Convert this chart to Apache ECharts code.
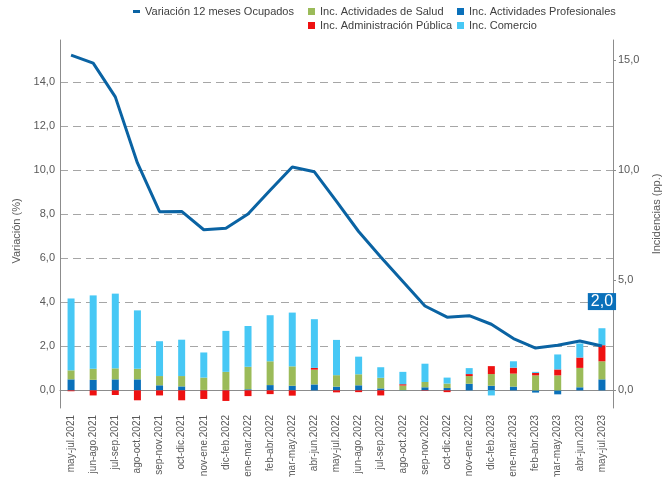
<!DOCTYPE html>
<html>
<head>
<meta charset="utf-8">
<script src="https://cdn.jsdelivr.net/npm/echarts@6/dist/echarts.min.js"></script>
<style>
html,body{margin:0;padding:0;background:#fff;}
#chart{width:670px;height:477px;}
</style>
</head>
<body>
<div id="chart"></div>
<script>
var categories = ["may-jul.2021","jun-ago.2021","jul-sep.2021","ago-oct.2021","sep-nov.2021","oct-dic.2021","nov-ene.2021","dic-feb.2022","ene-mar.2022","feb-abr.2022","mar-may.2022","abr-jun.2022","may-jul.2022","jun-ago.2022","jul-sep.2022","ago-oct.2022","sep-nov.2022","oct-dic.2022","nov-ene.2022","dic-feb.2023","ene-mar.2023","feb-abr.2023","mar-may.2023","abr-jun.2023","may-jul.2023"];

var variacionOcupados = [15.21,14.85,13.32,10.32,8.11,8.12,7.29,7.36,8.0,9.08,10.14,9.92,8.58,7.21,6.05,4.94,3.83,3.32,3.39,3.0,2.35,1.92,2.05,2.24,2.01];

var incProfesionales = [0.5,0.48,0.5,0.5,0.23,0.18,0.02,0.02,0.05,0.24,0.21,0.27,0.17,0.23,0.09,0.01,0.14,0.11,0.3,0.21,0.17,-0.1,-0.18,0.14,0.5];
var incSalud = [0.41,0.5,0.5,0.48,0.42,0.47,0.56,0.82,1.02,1.08,0.88,0.67,0.52,0.5,0.48,0.21,0.24,0.2,0.35,0.53,0.59,0.68,0.68,0.88,0.82];
var incAdministracion = [-0.04,-0.23,-0.21,-0.45,-0.23,-0.45,-0.39,-0.48,-0.26,-0.17,-0.24,0.08,-0.09,-0.08,-0.23,0.06,-0.02,-0.08,0.09,0.36,0.27,0.11,0.27,0.47,0.73];
var incComercio = [3.26,3.33,3.39,2.65,1.58,1.65,1.14,1.86,1.85,2.09,2.44,2.21,1.6,0.8,0.48,0.56,0.83,0.27,0.27,-0.23,0.29,0.05,0.68,0.64,0.77];

var seriesNames = ["Variación 12 meses Ocupados","Inc. Actividades de Salud","Inc. Actividades Profesionales","Inc. Administración Pública","Inc. Comercio"];

var fmt = function(v){ return Number(v).toFixed(1).replace('.', ','); };
var txt = '#595959';
var fontFam = '"Liberation Sans", Arial, sans-serif';

var chart = echarts.init(document.getElementById('chart'), null, {renderer:'canvas'});

var lastIdx = variacionOcupados.length - 1;
var lineData = variacionOcupados.map(function(v, i){
  if (i === lastIdx) {
    return {value: v, label: {show: true, position: 'top', distance: 36, formatter: function(p){ return fmt(p.value); },
      backgroundColor: '#0A70BA', color: '#fff', fontSize: 16, lineHeight: 16, padding: [1, 3, 0, 3], fontFamily: fontFam}};
  }
  return v;
});

function barSeries(name, data, color){
  return {name: name, type: 'bar', stack: 'inc', yAxisIndex: 1, data: data, barWidth: 7,
    itemStyle: {color: color}, z: 2};
}

var legendText = {color: '#404040', fontSize: 11, fontFamily: fontFam};

var option = {
  animation: false,
  backgroundColor: '#fff',
  textStyle: {fontFamily: fontFam},
  legend: [
    {data: [{name: seriesNames[0], icon: 'rect'}], left: 133, top: 6, padding: 0, itemWidth: 7, itemHeight: 3, itemGap: 6, textStyle: legendText},
    {data: [seriesNames[1], seriesNames[3]], left: 308, top: 6, padding: 0, orient: 'vertical', icon: 'rect', itemWidth: 7, itemHeight: 7, itemGap: 3, textStyle: legendText},
    {data: [seriesNames[2], seriesNames[4]], left: 457, top: 6, padding: 0, orient: 'vertical', icon: 'rect', itemWidth: 7, itemHeight: 7, itemGap: 3, textStyle: legendText}
  ],
  grid: {left: 60, right: 57, top: 40, bottom: 69, containLabel: false, outerBoundsMode: 'none'},
  xAxis: {
    type: 'category', data: categories, boundaryGap: true,
    axisLine: {lineStyle: {color: '#8C8C8C'}},
    axisTick: {alignWithLabel: true, length: 4, lineStyle: {color: '#8C8C8C'}},
    axisLabel: {rotate: 90, color: txt, fontSize: 10, margin: 7, interval: 0}
  },
  yAxis: [
    {type: 'value', min: -0.8, max: 15.9, splitNumber: 8, position: 'left',
     name: 'Variación (%)', nameLocation: 'middle', nameGap: 27, nameRotate: 90,
     nameTextStyle: {color: txt, fontSize: 11, padding: [0, 14, 0, 0]},
     axisLine: {show: true, lineStyle: {color: '#8C8C8C'}},
     axisTick: {show: false},
     axisLabel: {color: txt, fontSize: 11, margin: 5, formatter: fmt, showMinLabel: false, showMaxLabel: false},
     splitLine: {show: true, showMinLine: false, showMaxLine: false, lineStyle: {color: '#A6A6A6', type: [8, 5], width: 1}}
    },
    {type: 'value', min: -0.8, max: 15.9, splitNumber: 3, position: 'right',
     name: 'Incidencias (pp.)', nameLocation: 'middle', nameGap: 38, nameRotate: 90,
     nameTextStyle: {color: txt, fontSize: 11, padding: [0, 0, 0, 20]},
     axisLine: {show: true, lineStyle: {color: '#8C8C8C'}},
     axisTick: {show: true, length: 3, lineStyle: {color: '#8C8C8C'}},
     axisLabel: {color: txt, fontSize: 11, margin: 5, formatter: fmt, showMinLabel: false, showMaxLabel: false},
     splitLine: {show: false}
    }
  ],
  series: [
    {name: seriesNames[0], type: 'line', yAxisIndex: 0, data: lineData, symbol: 'circle', symbolSize: 0, showSymbol: true,
     lineStyle: {color: '#0A63A3', width: 3}, itemStyle: {color: '#0A63A3'}, z: 5},
    barSeries(seriesNames[2], incProfesionales, '#0A70BA'),
    barSeries(seriesNames[1], incSalud, '#9BBB59'),
    barSeries(seriesNames[3], incAdministracion, '#EE1111'),
    barSeries(seriesNames[4], incComercio, '#47C8F5')
  ]
};
chart.setOption(option);
</script>
</body>
</html>
